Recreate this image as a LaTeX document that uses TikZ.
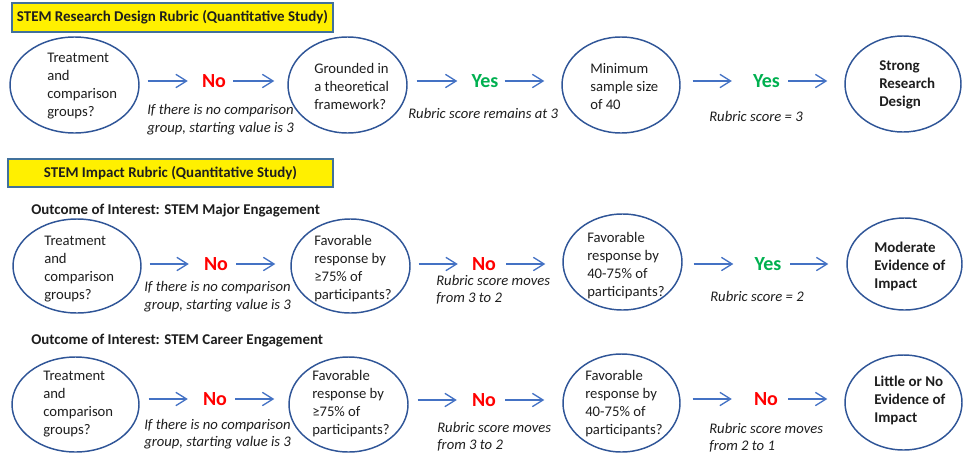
\documentclass[tikz,border=0pt]{standalone}
\usepackage{fontspec}
\setmainfont{Carlito}
\usetikzlibrary{shapes.geometric,arrows.meta}
\definecolor{ellblue}{RGB}{47,85,151}
\definecolor{arrblue}{RGB}{68,114,196}
\definecolor{nored}{RGB}{255,0,0}
\definecolor{yesgreen}{RGB}{0,176,80}
\definecolor{hlyellow}{RGB}{255,240,0}
\definecolor{boxedge}{RGB}{65,113,156}
\definecolor{txt}{RGB}{30,30,30}
\begin{document}
\begin{tikzpicture}[x=0.75pt,y=-0.75pt,
  ell/.style={draw=ellblue,line width=1.1pt,ellipse,inner sep=0pt},
  esz/.style 2 args={minimum width=#1*0.75pt,minimum height=#2*0.75pt},
  body/.style={font=\fontsize{11}{13.5}\selectfont,text=txt,align=left,anchor=west,inner sep=0pt},
  bbody/.style={body,font=\fontsize{11.2}{13.5}\selectfont\bfseries},
  note/.style={body,font=\fontsize{11}{13}\selectfont\itshape},
  no/.style={font=\fontsize{15}{17}\selectfont\bfseries,text=nored,inner sep=0pt},
  yes/.style={font=\fontsize{15}{17}\selectfont\bfseries,text=yesgreen,inner sep=0pt},
  arr/.style={draw=arrblue,line width=1pt,-{Straight Barb[length=8pt,width=10pt]}},
  gap/.style 2 args={shorten <=#1*0.75pt,shorten >=#2*0.75pt},
  title/.style={draw=boxedge,fill=hlyellow,line width=1.1pt,font=\fontsize{11.2}{13}\selectfont\bfseries,text=txt,inner sep=0pt},
  ]
\useasboundingbox (0,0) rectangle (963,457);
% ---------- Row 1
\node[title,esz={321}{29}] (T1) at (172.5,17.5) {STEM Research Design Rubric (Quantitative Study)};
\node[ell,esz={129}{96}] (A1) at (74.5,85) {};
\node[body] (A1t) at (47,86.5) {Treatment\\and\\comparison\\groups?};
\node[no] (A1n) at (214,81) {No};
\node[note] (A1m) at (147,119.5) {If there is no comparison\\group, starting value is 3};
\node[ell,esz={119}{96}] (B1) at (347.5,85) {};
\node[body] (B1t) at (314,86) {Grounded in\\a theoretical\\framework?};
\node[yes] (B1y) at (485,81) {Yes};
\node[note] (B1m) at (408,113) {Rubric score remains at 3};
\node[ell,esz={118}{96}] (C1) at (621,85) {};
\node[body] (C1t) at (590,86.5) {Minimum\\sample size\\of 40};
\node[yes] (C1y) at (766.5,81) {Yes};
\node[note] (C1m) at (709,116) {Rubric score = 3};
\node[ell,esz={116}{96}] (D1) at (903,84) {};
\node[bbody] (D1t) at (879,84.5) {Strong\\Research\\Design};
\draw[arr,gap={8}{14}] (A1.east |- A1n) -- (A1n);
\draw[arr,gap={7}{13}] (A1n) -- (B1.west |- A1n);
\draw[arr,gap={9}{14}] (B1.east |- B1y) -- (B1y);
\draw[arr,gap={6}{17}] (B1y) -- (C1.west |- B1y);
\draw[arr,gap={12}{21}] (C1.east |- C1y) -- (C1y);
\draw[arr,gap={8}{17}] (C1y) -- (D1.west |- C1y);
% ---------- Row 2
\node[title,esz={325}{28}] (T2) at (170.5,173) {STEM Impact Rubric (Quantitative Study)};
\node[bbody] (O2) at (31,211) {Outcome of Interest: STEM Major Engagement};
\node[ell,esz={128}{94}] (A2) at (77,266) {};
\node[body] (A2t) at (44,269.5) {Treatment\\and\\comparison\\groups?};
\node[no] (A2n) at (216,264) {No};
\node[note] (A2m) at (144,296.5) {If there is no comparison\\group, starting value is 3};
\node[ell,esz={119}{94}] (B2) at (350.5,266) {};
\node[body] (B2t) at (314,268.5) {Favorable\\response by\\≥75\% of\\participants?};
\node[no] (B2n) at (484,264) {No};
\node[note] (B2m) at (436,290) {Rubric score moves\\from 3 to 2};
\node[ell,esz={119}{96}] (C2) at (622.5,262) {};
\node[body] (C2t) at (587,266) {Favorable\\response by\\40-75\% of\\participants?};
\node[yes] (C2y) at (768,264) {Yes};
\node[note] (C2m) at (710,296) {Rubric score = 2};
\node[ell,esz={115}{92}] (D2) at (904.5,264) {};
\node[bbody] (D2t) at (874,266) {Moderate\\Evidence of\\Impact};
\draw[arr,gap={8}{15}] (A2.east |- A2n) -- (A2n);
\draw[arr,gap={8}{15}] (A2n) -- (B2.west |- A2n);
\draw[arr,gap={8}{14}] (B2.east |- B2n) -- (B2n);
\draw[arr,gap={10}{17}] (B2n) -- (C2.west |- B2n);
\draw[arr,gap={11}{21}] (C2.east |- C2y) -- (C2y);
\draw[arr,gap={8.5}{18}] (C2y) -- (D2.west |- C2y);
% ---------- Row 3
\node[bbody] (O3) at (31,341) {Outcome of Interest: STEM Career Engagement};
\node[ell,esz={127}{95}] (A3) at (75.5,404.5) {};
\node[body] (A3t) at (43,404) {Treatment\\and\\comparison\\groups?};
\node[no] (A3n) at (215,399) {No};
\node[note] (A3m) at (144,434) {If there is no comparison\\group, starting value is 3};
\node[ell,esz={119}{95}] (B3) at (348.5,404.5) {};
\node[body] (B3t) at (312,404) {Favorable\\response by\\≥75\% of\\participants?};
\node[no] (B3n) at (484,400) {No};
\node[note] (B3m) at (437,436.5) {Rubric score moves\\from 3 to 2};
\node[ell,esz={117}{98}] (C3) at (621.5,403) {};
\node[body] (C3t) at (585,403.5) {Favorable\\response by\\40-75\% of\\participants?};
\node[no] (C3n) at (766,399) {No};
\node[note] (C3m) at (709,437.5) {Rubric score moves\\from 2 to 1};
\node[ell,esz={117}{95}] (D3) at (903.5,402.5) {};
\node[bbody] (D3t) at (874,400) {Little or No\\Evidence of\\Impact};
\draw[arr,gap={9}{15}] (A3.east |- A3n) -- (A3n);
\draw[arr,gap={8}{14}] (A3n) -- (B3.west |- A3n);
\draw[arr,gap={9}{15}] (B3.east |- B3n) -- (B3n);
\draw[arr,gap={9}{18}] (B3n) -- (C3.west |- B3n);
\draw[arr,gap={12}{22}] (C3.east |- C3n) -- (C3n);
\draw[arr,gap={10}{17}] (C3n) -- (D3.west |- C3n);
\end{tikzpicture}
\end{document}
